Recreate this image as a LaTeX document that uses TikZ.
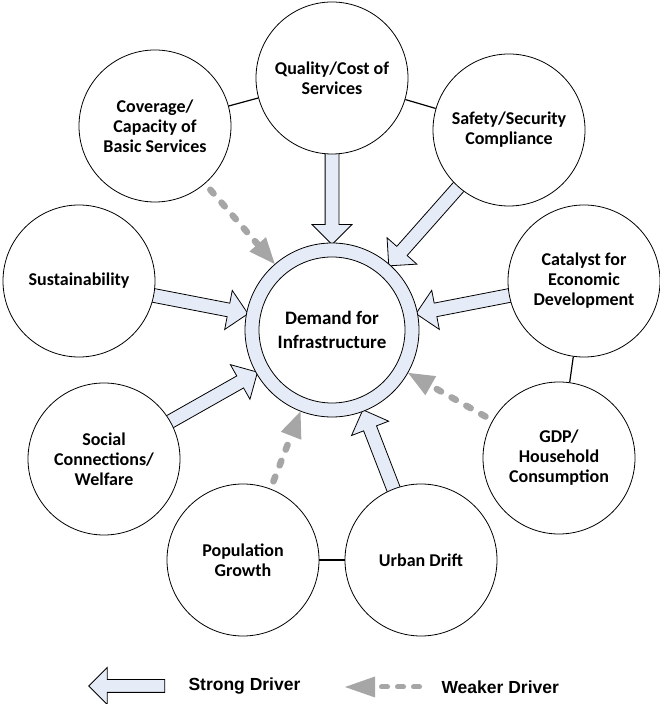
\documentclass[tikz,border=0pt]{standalone}
\usepackage{fontspec}
\setmainfont{Carlito}
\newfontfamily\legendfont{Liberation Sans}
\usepackage{xcolor}
\usepackage{tikz}
\usetikzlibrary{positioning,calc,shapes.arrows,arrows.meta,backgrounds}
\definecolor{driverblue}{HTML}{E6ECF7}
\definecolor{drivergray}{HTML}{A6A6A6}

% block arrow from a driver circle towards the demand ring
\newcommand{\strongdriver}[1]{%
  \path let \p1=($(#1)!70pt!(dem)$), \p2=($(dem)!89pt!(#1)$),
    \n1={atan2(\y2-\y1,\x2-\x1)}, \n2={veclen(\x2-\x1,\y2-\y1)} in
    node[strong, minimum height=\n2, rotate=\n1] (#1_arr) at ($(\p1)!0.5!(\p2)$) {};}

\begin{document}
\begin{tikzpicture}[
  x=1pt, y=1pt,
  driver/.style={circle, draw, line width=0.8pt, fill=white, minimum size=152pt, inner sep=0pt, align=center, font=\bfseries\fontsize{18}{20}\selectfont},
  ring/.style={circle, draw, line width=0.8pt, fill=driverblue, minimum size=174pt},
  core/.style={circle, draw, line width=0.8pt, fill=white, minimum size=146pt, inner sep=0pt, align=center, font=\bfseries\fontsize{19}{24}\selectfont},
  link/.style={line width=1.2pt},
  strong/.style={single arrow, draw, line width=0.8pt, fill=driverblue, inner xsep=0pt, inner ysep=6.5pt, single arrow head extend=13pt},
  weak/.style={draw=drivergray, line width=6.5pt, line cap=round, dash pattern=on 5pt off 12pt, -{Triangle[length=26pt, width=22pt, line width=0pt]}, shorten <=8pt},
  legtext/.style={anchor=west, font=\legendfont\bfseries\fontsize{17.5}{20}\selectfont}
]
\useasboundingbox (0,0) rectangle (660,704);

\node[ring] (dem) at (332,374) {};
\node[core] (core) at (dem) {Demand for\\Infrastructure};

\node[driver] (qual) at (332,626) {Quality/Cost of\\Services};
\node[driver] (cov) at (155,578) {Coverage/\\Capacity of\\Basic Services};
\node[driver] (safe) at (509,574) {Safety/Security\\Compliance};
\node[driver] (cat) at (584,423) {Catalyst for\\Economic\\Development};
\node[driver] (gdp) at (559,246) {GDP/\\Household\\Consumption};
\node[driver] (urb) at (421,144) {Urban Drift};
\node[driver] (pop) at (243,144) {Population\\Growth};
\node[driver] (soc) at (104,245) {Social\\Connections/\\Welfare};
\node[driver] (sus) at (79,423) {Sustainability};

\draw[link] (cov) -- (qual);
\draw[link] (qual) -- (safe);
\draw[link] (cat) -- (gdp);
\draw[link] (pop) -- (urb);

\begin{scope}[on background layer]
\strongdriver{qual}
\strongdriver{safe}
\strongdriver{cat}
\strongdriver{urb}
\strongdriver{soc}
\strongdriver{sus}
\draw[weak] (cov) -- (dem);
\draw[weak] (gdp) -- (dem);
\draw[weak] (pop) -- (dem);
\end{scope}

% legend
\node[strong, minimum height=76pt, inner ysep=6pt, single arrow head extend=12pt, rotate=180] (strongkey) at (130,18) {};
\node[legtext] (strongtxt) at (185,18) {Strong Driver};
\coordinate (weaktip) at (345,17);
\coordinate (weaktail) at (419.5,17);
\draw[weak, line width=5pt, dash pattern=on 6pt off 10pt, shorten <=0pt, -{Triangle[length=30pt, width=21pt, line width=0pt]}] (weaktail) -- (weaktip);
\node[legtext] (weaktxt) at (438,17) {Weaker Driver};
\end{tikzpicture}
\end{document}
